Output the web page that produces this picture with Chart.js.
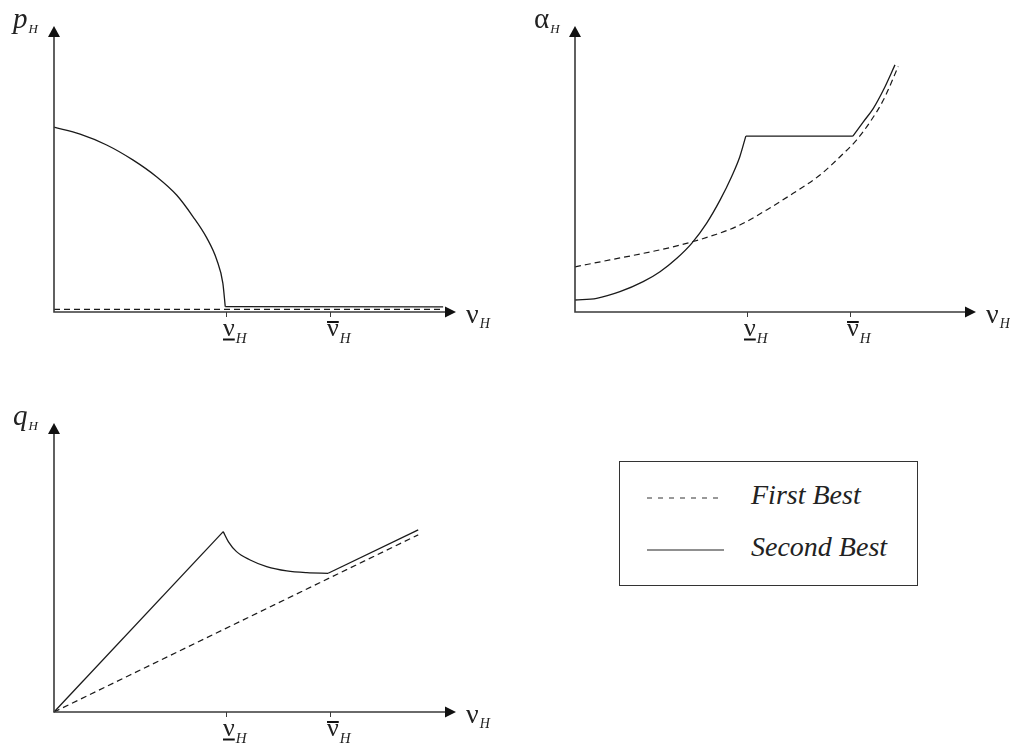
<!DOCTYPE html>
<html>
<head>
<meta charset="utf-8">
<script src="https://cdn.jsdelivr.net/npm/chart.js@4"></script>
<style>
  html, body { margin: 0; padding: 0; background: #fff; }
  body { width: 1010px; height: 745px; position: relative; overflow: hidden; }
  canvas { position: absolute; }
  #legend { position: absolute; left: 619px; top: 461px; width: 297px; height: 123px; border: 1px solid #333; }
  #legend svg { position: absolute; left: 0; top: 0; }
  #legend span { position: absolute; left: 131px; font-family: "Liberation Serif", "Times New Roman", serif; font-style: italic; font-size: 28px; line-height: 28px; color: #222; white-space: nowrap; }
</style>
</head>
<body>
<canvas id="priceChart" width="505" height="370" style="left:0;top:0"></canvas>
<canvas id="alphaChart" width="505" height="370" style="left:505px;top:0"></canvas>
<canvas id="qualityChart" width="505" height="370" style="left:0;top:375px"></canvas>
<div id="legend">
  <svg width="297" height="123">
    <line x1="27" y1="36" x2="104" y2="36" stroke="#333" stroke-width="1" stroke-dasharray="5 6"></line>
    <line x1="27" y1="88" x2="104" y2="88" stroke="#222" stroke-width="1.2"></line>
  </svg>
  <span style="top:19px">First Best</span>
  <span style="top:71px">Second Best</span>
</div>
<script>
// axis runs 0..10 both ways, ticks are the two cut-off values of v_H
const X_MAX = 10, Y_MAX = 10;
const TICK_VALUES = [4.28, 6.87];
const TICK_MARKS = ['under', 'over'];

const LINE_COLOR = '#1a1a1a';
const AXIS_COLOR = '#3a3a3a';
const SERIF = '"Liberation Serif", "Times New Roman", serif';

// p_H
const P_FIRST = [[0, 0.09], [9.68, 0.09]];
const P_SECOND_CURVE = [[0, 6.46], [0.65, 6.22], [1.31, 5.84], [1.97, 5.31], [2.55, 4.73], [3.05, 4.09],
                        [3.46, 3.33], [3.80, 2.59], [4.05, 1.82], [4.20, 1.01], [4.26, 0.19]];
const P_SECOND_FLAT = [[4.26, 0.19], [9.68, 0.18]];

// alpha_H
const A_FIRST = [[0, 1.58], [0.87, 1.82], [1.70, 2.05], [2.54, 2.31], [3.53, 2.72], [4.11, 3.04], [4.78, 3.57],
                 [5.44, 4.15], [6.11, 4.79], [6.61, 5.43], [7.02, 6.01], [7.36, 6.65], [7.69, 7.41], [8.06, 8.58]];
const A_SECOND_LOW = [[0, 0.42], [0.54, 0.48], [1.12, 0.71], [1.70, 1.06], [2.12, 1.41], [2.54, 1.88],
                      [2.91, 2.40], [3.28, 3.10], [3.62, 3.92], [3.91, 4.75], [4.11, 5.43], [4.26, 6.15]];
const A_SECOND_FLAT = [[4.26, 6.15], [6.93, 6.15]];
const A_SECOND_HIGH = [[6.93, 6.15], [7.19, 6.65], [7.44, 7.12], [7.69, 7.76], [7.98, 8.64]];

// q_H
const Q_FIRST = [[0, 0], [9.06, 6.13]];
const Q_SECOND_RISE = [[0, 0], [4.21, 6.24]];
const Q_SECOND_DIP = [[4.21, 6.24], [4.34, 5.89], [4.54, 5.55], [4.88, 5.26], [5.29, 5.03], [5.79, 4.88],
                      [6.29, 4.82], [6.82, 4.80]];
const Q_SECOND_TAIL = [[6.82, 4.80], [9.06, 6.30]];

function toPts(arr) { return arr.map(p => ({ x: p[0], y: p[1] })); }

function firstBest(arr) {
    return { label: 'First Best', data: toPts(arr), borderColor: LINE_COLOR, borderWidth: 1.2,
             borderDash: [6, 4], pointRadius: 0, clip: false, cubicInterpolationMode: 'monotone' };
}
function secondBest(arr, smooth) {
    return { label: 'Second Best', data: toPts(arr), borderColor: LINE_COLOR, borderWidth: 1.3,
             pointRadius: 0, clip: false, tension: 0, cubicInterpolationMode: smooth ? 'monotone' : 'default' };
}

// draws axes, arrows, ticks and the math labels
const axesPlugin = {
    id: 'axes',
    afterDatasetsDraw(chart, args, opts) {
        const { ctx, chartArea: { left, right, top, bottom } } = chart;
        ctx.save();
        ctx.strokeStyle = AXIS_COLOR;
        ctx.lineWidth = 1.6;
        ctx.beginPath();
        ctx.moveTo(left, top + 8); ctx.lineTo(left, bottom); ctx.lineTo(right - 8, bottom);
        ctx.stroke();

        ctx.fillStyle = '#111';
        ctx.beginPath(); ctx.moveTo(left, top); ctx.lineTo(left - 6, top + 11); ctx.lineTo(left + 6, top + 11); ctx.closePath(); ctx.fill();
        ctx.beginPath(); ctx.moveTo(right, bottom); ctx.lineTo(right - 11, bottom - 5.5); ctx.lineTo(right - 11, bottom + 5.5); ctx.closePath(); ctx.fill();

        const xs = chart.scales.x;
        ctx.fillStyle = '#222';
        ctx.textBaseline = 'alphabetic';
        TICK_VALUES.forEach((v, i) => {
            const px = Math.round(xs.getPixelForValue(v)) + 0.5;
            ctx.lineWidth = 1;
            ctx.beginPath(); ctx.moveTo(px, bottom); ctx.lineTo(px, bottom + 5); ctx.stroke();

            ctx.font = '26px ' + SERIF;
            const x0 = px - 3.5;
            const w = ctx.measureText('ν').width;
            ctx.fillText('ν', x0, bottom + 24);
            ctx.lineWidth = 2;
            ctx.strokeStyle = '#111';
            const ly = TICK_MARKS[i] === 'under' ? bottom + 27.5 : bottom + 10;
            ctx.beginPath(); ctx.moveTo(x0, ly); ctx.lineTo(x0 + w, ly); ctx.stroke();
            ctx.strokeStyle = AXIS_COLOR;
            ctx.font = 'italic 15px ' + SERIF;
            ctx.fillText('H', x0 + w + 1, bottom + 31);
        });

        // y label
        ctx.font = (opts.yItalic ? 'italic ' : '') + '29px ' + SERIF;
        const yx = left - 41;
        ctx.fillText(opts.yLabel, yx, top + 2);
        const yw = ctx.measureText(opts.yLabel).width;
        ctx.font = 'italic 13px ' + SERIF;
        ctx.fillText('H', yx + yw + 1, top + 7);

        // x label
        ctx.font = '28px ' + SERIF;
        const xx = right + 10;
        ctx.fillText('ν', xx, bottom + 11);
        const xw = ctx.measureText('ν').width;
        ctx.font = 'italic 14px ' + SERIF;
        ctx.fillText('H', xx + xw + 1, bottom + 16);
        ctx.restore();
    }
};

function makeChart(id, datasets, padding, yLabel, yItalic) {
    const ctx = document.getElementById(id).getContext('2d');
    return new Chart(ctx, {
        type: 'line',
        data: { datasets: datasets },
        options: {
            responsive: false, animation: false, devicePixelRatio: 1,
            layout: { padding: padding },
            plugins: { legend: { display: false }, tooltip: { enabled: false }, axes: { yLabel: yLabel, yItalic: yItalic } },
            scales: {
                x: { type: 'linear', min: 0, max: X_MAX, display: false },
                y: { type: 'linear', min: 0, max: Y_MAX, display: false }
            }
        },
        plugins: [axesPlugin]
    });
}

makeChart('priceChart',
    [firstBest(P_FIRST), secondBest(P_SECOND_CURVE, true), secondBest(P_SECOND_FLAT, false)],
    { left: 54, right: 49, top: 26, bottom: 58 }, 'p', true);

makeChart('alphaChart',
    [firstBest(A_FIRST), secondBest(A_SECOND_LOW, true), secondBest(A_SECOND_FLAT, false), secondBest(A_SECOND_HIGH, true)],
    { left: 70, right: 34, top: 26, bottom: 58 }, 'α', false);

makeChart('qualityChart',
    [firstBest(Q_FIRST), secondBest(Q_SECOND_RISE, false), secondBest(Q_SECOND_DIP, true), secondBest(Q_SECOND_TAIL, false)],
    { left: 54, right: 49, top: 48, bottom: 33 }, 'q', true);
</script>
</body>
</html>
